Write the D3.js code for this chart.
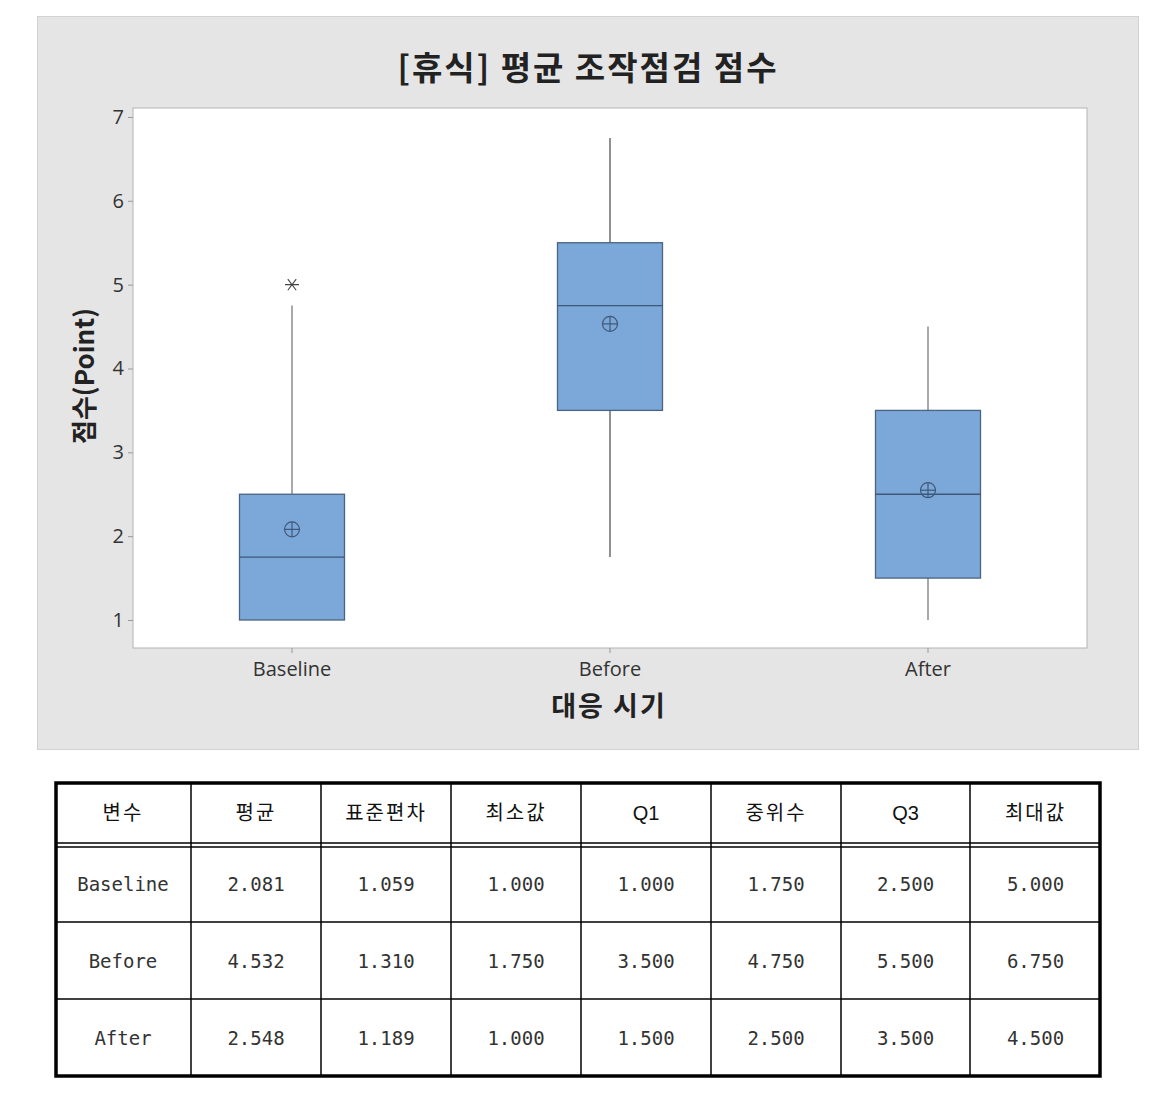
<!DOCTYPE html>
<html><head><meta charset="utf-8">
<script src="https://cdn.jsdelivr.net/npm/d3@7"></script>
<style>body{margin:0;background:#fff}svg{display:block}</style>
</head><body>
<svg id="c" width="1160" height="1095"></svg>
<script>
const categories = ["Baseline","Before","After"];
const means = [2.081, 4.532, 2.548];
const sds = [1.059, 1.310, 1.189];
const mins = [1.000, 1.750, 1.000];
const q1s = [1.000, 3.500, 1.500];
const medians = [1.750, 4.750, 2.500];
const q3s = [2.500, 5.500, 3.500];
const maxs = [5.000, 6.750, 4.500];
const whiskerLow = [1.000, 1.750, 1.000];
const whiskerHigh = [4.750, 6.750, 4.500];
const outliers = [[5.0], [], []];
const yTicks = [1,2,3,4,5,6,7];
const title = "[휴식] 평균 조작점검 점수";
const xTitle = "대응 시기";
const yTitle = "점수(Point)";
const tableHeaders = ["변수","평균","표준편차","최소값","Q1","중위수","Q3","최대값"];

const svg = d3.select("#c");
svg.append("rect").attr("x",37.5).attr("y",16.5).attr("width",1101).attr("height",733)
  .attr("fill","#e5e5e5").attr("stroke","#d2d2d2");
const L=133, R=1087, T=108, B=648;
svg.append("rect").attr("x",L).attr("y",T).attr("width",R-L).attr("height",B-T)
  .attr("fill","#fff").attr("stroke","#b4b4b4");

const x = d3.scaleBand().domain(categories).range([L,R]);
const y = d3.scaleLinear().domain([0.666,7.107]).range([B,T]);

const ya = svg.append("g").attr("transform",`translate(${L},0)`)
  .call(d3.axisLeft(y).tickValues(yTicks).tickFormat(d3.format("d")).tickSize(5).tickPadding(4));
ya.select(".domain").remove();
ya.selectAll("line").attr("stroke","#999");
ya.selectAll("text").attr("font-family","'Open Sans',sans-serif").attr("font-size",20).attr("fill","#333");

const xa = svg.append("g").attr("transform",`translate(0,${B})`)
  .call(d3.axisBottom(x).tickSize(5).tickPadding(9));
xa.select(".domain").remove();
xa.selectAll("line").attr("stroke","#999");
xa.selectAll("text").attr("font-family","'Open Sans',sans-serif").attr("font-size",20).attr("fill","#333");

const bw = 105;
const g = svg.append("g");
categories.forEach((c,i)=>{
  const cx = x(c)+x.bandwidth()/2;
  const col = i===1 ? "#555" : "#7a7a7a";
  g.append("line").attr("x1",cx).attr("x2",cx).attr("y1",y(q3s[i])).attr("y2",y(whiskerHigh[i])).attr("stroke",col).attr("stroke-width",1.3);
  g.append("line").attr("x1",cx).attr("x2",cx).attr("y1",y(q1s[i])).attr("y2",y(whiskerLow[i])).attr("stroke",col).attr("stroke-width",1.3);
  g.append("rect").attr("x",cx-bw/2).attr("y",y(q3s[i])).attr("width",bw).attr("height",y(q1s[i])-y(q3s[i]))
    .attr("fill","#7ba7d9").attr("stroke","#4a6380").attr("stroke-width",1.3);
  g.append("line").attr("x1",cx-bw/2).attr("x2",cx+bw/2).attr("y1",y(medians[i])).attr("y2",y(medians[i]))
    .attr("stroke","#3f5878").attr("stroke-width",1.3);
  const my = y(means[i]);
  g.append("circle").attr("cx",cx).attr("cy",my).attr("r",7.5).attr("fill","none").attr("stroke","#3f5878").attr("stroke-width",1.2);
  g.append("line").attr("x1",cx-7.5).attr("x2",cx+7.5).attr("y1",my).attr("y2",my).attr("stroke","#3f5878").attr("stroke-width",1.2);
  g.append("line").attr("x1",cx).attr("x2",cx).attr("y1",my-7.5).attr("y2",my+7.5).attr("stroke","#3f5878").attr("stroke-width",1.2);
  outliers[i].forEach(o=>{
    const oy=y(o), s=7;
    g.append("path").attr("d",`M${cx-s},${oy}H${cx+s}M${cx-s*0.6},${oy-s*0.8}L${cx+s*0.6},${oy+s*0.8}M${cx-s*0.6},${oy+s*0.8}L${cx+s*0.6},${oy-s*0.8}`)
      .attr("stroke","#444").attr("stroke-width",1.1).attr("fill","none");
  });
});

svg.append("text").attr("x",588).attr("y",80).attr("text-anchor","middle")
  .attr("font-family","'Noto Sans CJK KR',sans-serif").attr("font-weight","bold").attr("font-size",33).attr("letter-spacing",2).attr("fill","#222").text(title);
svg.append("text").attr("x",609).attr("y",716).attr("text-anchor","middle")
  .attr("font-family","'Noto Sans CJK KR',sans-serif").attr("font-weight","bold").attr("font-size",27).attr("letter-spacing",2).attr("fill","#222").text(xTitle);
svg.append("text").attr("transform","translate(94,376) rotate(-90)").attr("text-anchor","middle")
  .attr("font-family","'Noto Sans CJK KR',sans-serif").attr("font-weight","bold").attr("font-size",26).attr("fill","#222").text(yTitle);

const colX = [55,191,321,451,581,711,841,970,1101];
const rowY = [782,845,922,999,1077];
const tg = svg.append("g");
const fmt = d3.format(".3f");
const rows = categories.map((c,i)=>[c, fmt(means[i]), fmt(sds[i]), fmt(mins[i]), fmt(q1s[i]), fmt(medians[i]), fmt(q3s[i]), fmt(maxs[i])]);
colX.slice(1,-1).forEach(cx=>tg.append("line").attr("x1",cx).attr("x2",cx).attr("y1",rowY[0]).attr("y2",rowY[4]).attr("stroke","#000").attr("stroke-width",1.5));
rowY.slice(2,-1).forEach(ry=>tg.append("line").attr("x1",colX[0]).attr("x2",colX[8]).attr("y1",ry).attr("y2",ry).attr("stroke","#000").attr("stroke-width",1.5));
[843,847].forEach(ry=>tg.append("line").attr("x1",colX[0]).attr("x2",colX[8]).attr("y1",ry).attr("y2",ry).attr("stroke","#000").attr("stroke-width",1.3));
tg.append("rect").attr("x",56).attr("y",783).attr("width",1044).attr("height",293).attr("fill","none").attr("stroke","#000").attr("stroke-width",3.5);
tableHeaders.forEach((h,j)=>{
  const isQ = h.startsWith("Q");
  tg.append("text").attr("x",(colX[j]+colX[j+1])/2).attr("y",820).attr("text-anchor","middle")
    .attr("font-family", isQ ? "'Liberation Sans Narrow','Liberation Sans',sans-serif" : "'Noto Sans CJK KR',sans-serif")
    .attr("font-size",20).attr("letter-spacing", isQ?0:2).attr("fill","#111").text(h);
});
rows.forEach((r,i)=>{
  r.forEach((v,j)=>{
    tg.append("text").attr("x",(colX[j]+colX[j+1])/2).attr("y",(rowY[i+1]+rowY[i+2])/2+7).attr("text-anchor","middle")
      .attr("font-family","'DejaVu Sans Mono',monospace").attr("font-size",19).attr("fill","#333").text(v);
  });
});
</script>
</body></html>
